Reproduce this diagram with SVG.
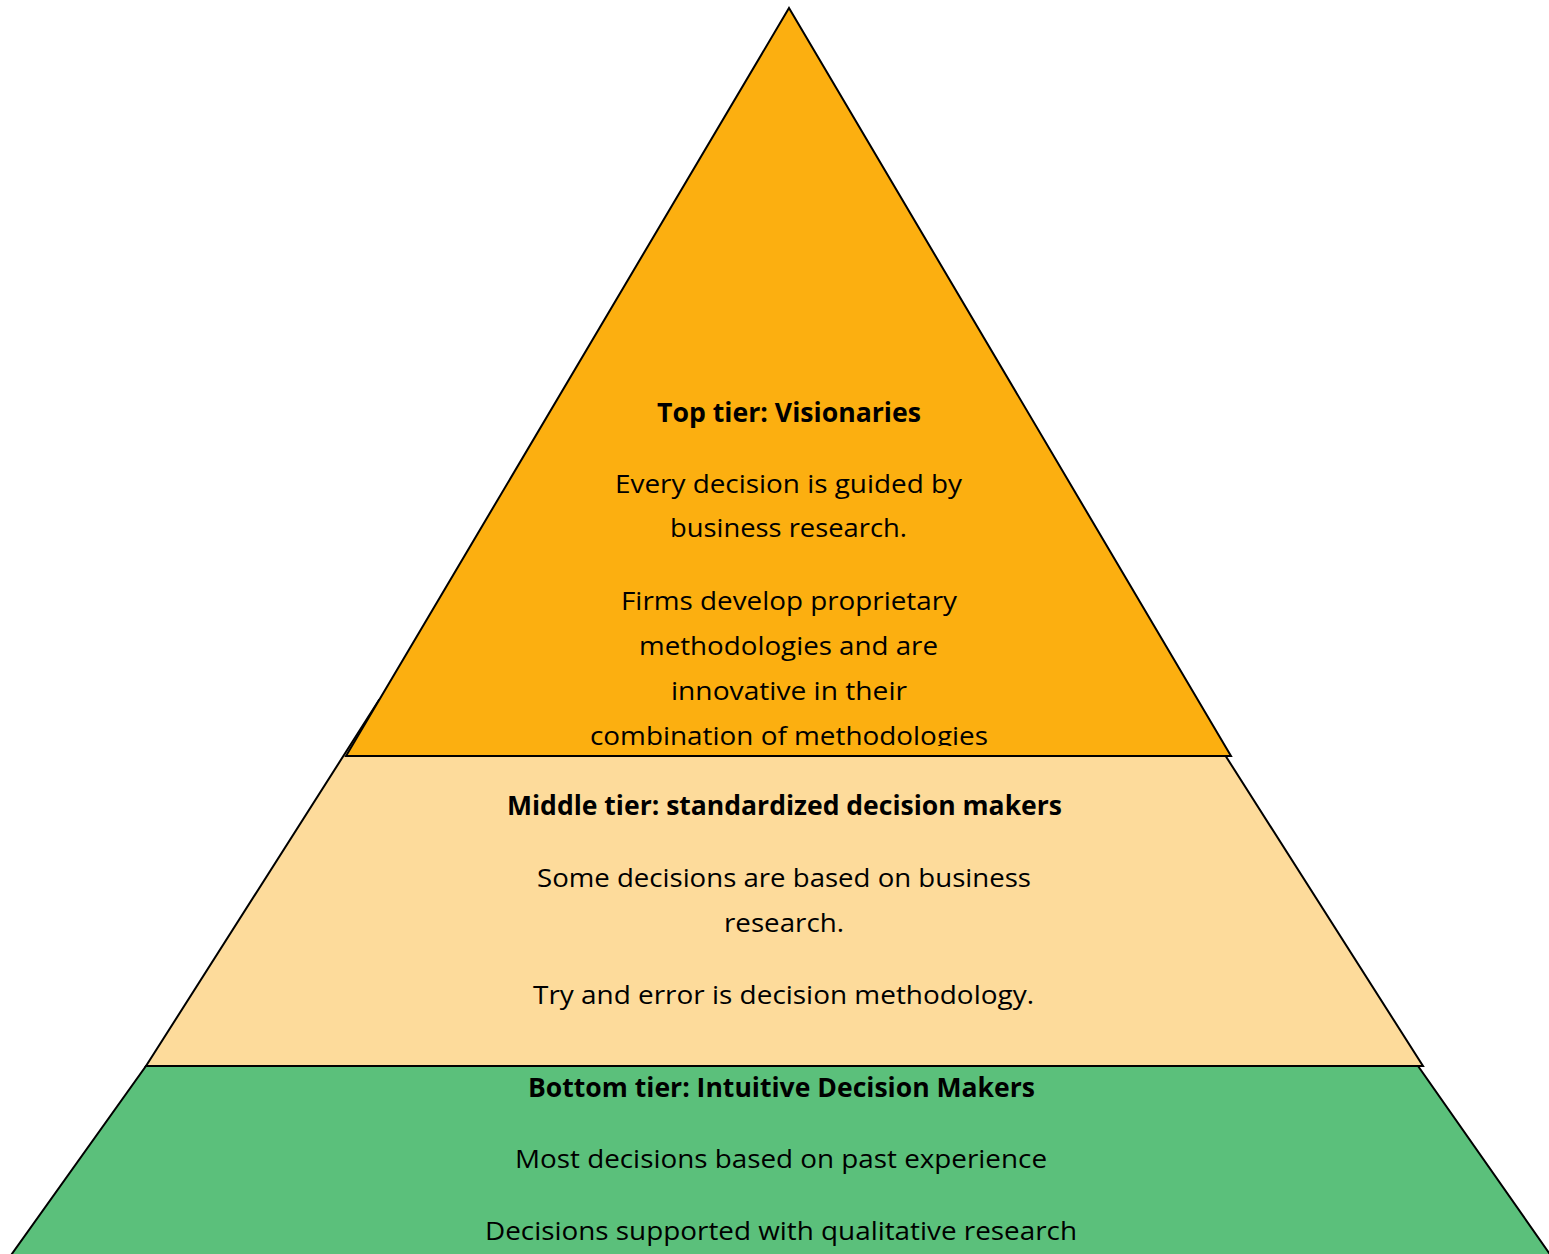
<svg xmlns="http://www.w3.org/2000/svg" width="1549" height="1254" viewBox="0 0 1549 1254">
<style>
.shape{stroke:#000;stroke-width:2;stroke-linejoin:miter}
.t{font-family:"Open Sans","Noto Sans","Liberation Sans",sans-serif;font-size:26px;fill:#000;text-anchor:middle}
.b{font-weight:bold}
</style>
<defs>
<clipPath id="topclip"><rect x="0" y="0" width="1549" height="746"/></clipPath>
</defs>
<rect width="1549" height="1254" fill="#fff"/>
<g id="bottom-tier">
<polygon class="shape" fill="#5BC07B" points="146,1066 1418,1066 1582,1300 -21,1300"/>
<text class="t b" x="781.5" y="1097" textLength="507" lengthAdjust="spacingAndGlyphs">Bottom tier: Intuitive Decision Makers</text>
<text class="t" x="781" y="1168" textLength="532" lengthAdjust="spacingAndGlyphs">Most decisions based on past experience</text>
<text class="t" x="781" y="1240" textLength="592" lengthAdjust="spacingAndGlyphs">Decisions supported with qualitative research</text>
</g>
<g id="middle-tier">
<polygon class="shape" fill="#FDDB9B" points="379,700 1190,700 1423,1066 146,1066"/>
<text class="t b" x="784.5" y="815" textLength="555" lengthAdjust="spacingAndGlyphs">Middle tier: standardized decision makers</text>
<text class="t" x="784" y="887" textLength="494" lengthAdjust="spacingAndGlyphs">Some decisions are based on business</text>
<text class="t" x="784" y="932" textLength="120" lengthAdjust="spacingAndGlyphs">research.</text>
<text class="t" x="783.5" y="1004" textLength="501" lengthAdjust="spacingAndGlyphs">Try and error is decision methodology.</text>
</g>
<g id="top-tier">
<polygon class="shape" fill="#FCAF10" points="789,8 1231,756 346,756"/>
<g clip-path="url(#topclip)">
<text class="t b" x="789" y="422" textLength="264" lengthAdjust="spacingAndGlyphs">Top tier: Visionaries</text>
<text class="t" x="788.5" y="493" textLength="347" lengthAdjust="spacingAndGlyphs">Every decision is guided by</text>
<text class="t" x="788.5" y="537" textLength="237" lengthAdjust="spacingAndGlyphs">business research.</text>
<text class="t" x="789" y="610" textLength="336" lengthAdjust="spacingAndGlyphs">Firms develop proprietary</text>
<text class="t" x="788.5" y="655" textLength="299" lengthAdjust="spacingAndGlyphs">methodologies and are</text>
<text class="t" x="789" y="700" textLength="236" lengthAdjust="spacingAndGlyphs">innovative in their</text>
<text class="t" x="789" y="745" textLength="398" lengthAdjust="spacingAndGlyphs">combination of methodologies</text>
</g>
</g>
</svg>
